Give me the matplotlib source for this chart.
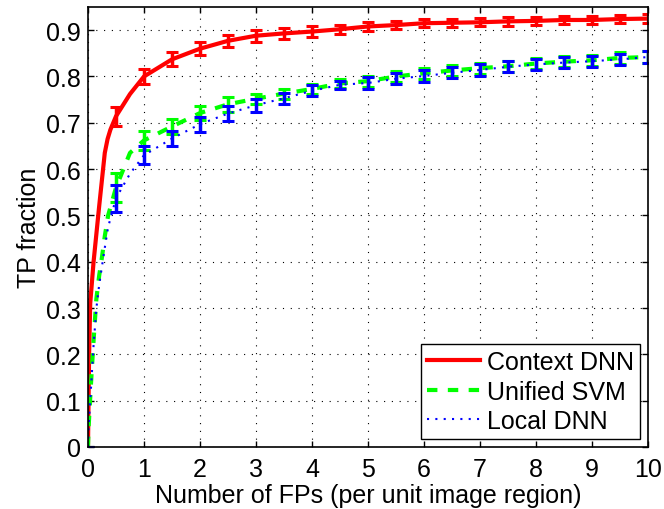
import matplotlib
matplotlib.use("Agg")
import matplotlib.pyplot as plt
import numpy as np

# error bar positions (every 0.5 FP)
fp_bars = [0, 0.5, 1, 1.5, 2, 2.5, 3, 3.5, 4, 4.5, 5, 5.5, 6, 6.5, 7, 7.5, 8, 8.5, 9, 9.5, 10]

ctx_bar = [0, 0.714, 0.800, 0.837, 0.860, 0.877, 0.888, 0.893, 0.897, 0.902, 0.908,
           0.911, 0.915, 0.916, 0.917, 0.919, 0.920, 0.922, 0.922, 0.924, 0.925]
ctx_err = [0, 0.021, 0.016, 0.015, 0.014, 0.013, 0.013, 0.012, 0.011, 0.010, 0.009,
           0.009, 0.009, 0.009, 0.009, 0.009, 0.009, 0.009, 0.009, 0.009, 0.009]

svm_bar = [0, 0.560, 0.662, 0.692, 0.721, 0.740, 0.752, 0.763, 0.773, 0.785, 0.790,
           0.800, 0.807, 0.813, 0.818, 0.822, 0.828, 0.832, 0.835, 0.840, 0.842]
svm_err = [0, 0.031, 0.020, 0.016, 0.016, 0.016, 0.011, 0.011, 0.011, 0.009, 0.012,
           0.012, 0.012, 0.012, 0.012, 0.012, 0.012, 0.012, 0.012, 0.012, 0.012]

loc_bar = [0, 0.537, 0.630, 0.666, 0.697, 0.720, 0.738, 0.753, 0.769, 0.782, 0.786,
           0.795, 0.801, 0.808, 0.814, 0.821, 0.826, 0.830, 0.833, 0.837, 0.842]
loc_err = [0, 0.029, 0.019, 0.016, 0.016, 0.016, 0.014, 0.012, 0.012, 0.009, 0.012,
           0.012, 0.012, 0.012, 0.012, 0.012, 0.012, 0.012, 0.012, 0.012, 0.012]

# extra curve samples at the low-FP end
ctx_head_x = [0, 0.02, 0.04, 0.1, 0.2, 0.3, 0.35, 0.4, 0.75]
ctx_head_y = [0, 0.20, 0.31, 0.40, 0.52, 0.635, 0.665, 0.685, 0.762]
svm_head_x = [0, 0.01, 0.06, 0.1, 0.15, 0.2, 0.25, 0.3, 0.36, 0.75]
svm_head_y = [0, 0.04, 0.15, 0.23, 0.32, 0.37, 0.41, 0.455, 0.50, 0.635]
loc_head_x = [0, 0.01, 0.06, 0.1, 0.15, 0.2, 0.25, 0.3, 0.36, 0.75]
loc_head_y = [0, 0.04, 0.14, 0.22, 0.30, 0.35, 0.39, 0.43, 0.475, 0.59]


def curve(head_x, head_y, bar_x, bar_y):
    x = np.array(list(head_x) + list(bar_x), dtype=float)
    y = np.array(list(head_y) + list(bar_y), dtype=float)
    order = np.argsort(x, kind="stable")
    return x[order], y[order]


plt.rcParams['font.family'] = ['Liberation Sans', 'DejaVu Sans']
plt.rcParams['font.size'] = 18

fig = plt.figure(figsize=[6.64, 5.1], dpi=100)
ax = fig.add_axes([0.1325, 0.1216, 0.8434, 0.8627])

series = [
    ("Context DNN", ctx_head_x, ctx_head_y, ctx_bar, ctx_err, (1, 0, 0), dict(lw=3, ls="-")),
    ("Unified SVM", svm_head_x, svm_head_y, svm_bar, svm_err, (0, 1, 0), dict(lw=3, dashes=(2.5, 2.5))),
    ("Local DNN", loc_head_x, loc_head_y, loc_bar, loc_err, (0, 0, 1), dict(lw=1.5, dashes=(1, 3))),
]

for name, hx, hy, by, be, col, style in series:
    x, y = curve(hx, hy, fp_bars, by)
    ax.plot(x, y, color=col, label=name, **style)
    ax.errorbar(fp_bars, by, yerr=be, fmt="none", ecolor=col, elinewidth=2.5,
                capsize=4.5, capthick=2.2)

ax.set_xlim(0, 10)
ax.set_ylim(0, 0.95)
ax.set_xticks(np.arange(0, 11, 1))
ax.set_yticks(np.arange(0, 0.95, 0.1))
ax.set_yticklabels(["0", "0.1", "0.2", "0.3", "0.4", "0.5", "0.6", "0.7", "0.8", "0.9"])
ax.grid(True, color="k", linestyle=(0, (1, 6)), linewidth=0.8)
ax.tick_params(direction="in", length=4, width=1, top=True, right=True, pad=5)
ax.tick_params(axis="x", pad=7)
for sp in ax.spines.values():
    sp.set_linewidth(1.2)

ax.set_xlabel("Number of FPs (per unit image region)", labelpad=2)
ax.set_ylabel("TP fraction", labelpad=4)

leg = ax.legend(loc="lower right", fancybox=False, edgecolor="k", framealpha=1,
                handlelength=2.1, labelspacing=0.22, borderaxespad=0.3, handletextpad=0.3,
                borderpad=0.25)
leg.get_frame().set_linewidth(1)

plt.savefig("out.png", dpi=100)
